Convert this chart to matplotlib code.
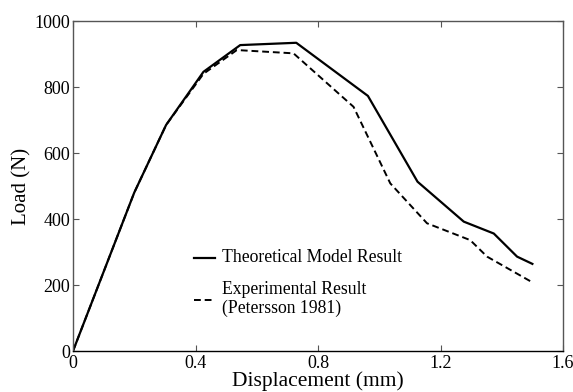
import numpy as np
import matplotlib
matplotlib.use("Agg")
import matplotlib.pyplot as plt

# load-displacement data
x_model = [0, 0.2, 0.304, 0.426, 0.546, 0.729, 0.963, 1.125, 1.276, 1.374, 1.45, 1.50]
y_model = [0, 480, 685, 846, 927, 934, 773, 513, 392, 356, 286, 264]

x_exp = [0, 0.2, 0.304, 0.426, 0.535, 0.72, 0.916, 1.036, 1.156, 1.297, 1.352, 1.50]
y_exp = [0, 480, 685, 840, 912, 902, 740, 508, 387, 336, 286, 208]

xticks = [0, 0.4, 0.8, 1.2, 1.6]
xticklabels = ["0", "0.4", "0.8", "1.2", "1.6"]
yticks = [0, 200, 400, 600, 800, 1000]

plt.rcParams['font.family'] = ['Liberation Serif', 'DejaVu Serif']

fig = plt.figure(figsize=(5.73, 3.92), dpi=100)
ax = fig.add_axes([73/573, 41/392, 490/573, 330/392])

ax.plot(x_model, y_model, color='black', lw=1.6, ls='-')
ax.plot(x_exp, y_exp, color='black', lw=1.4, ls=(0, (3.5, 2)))

ax.set_xlim(0, 1.6)
ax.set_ylim(0, 1000)
ax.set_xticks(xticks)
ax.set_xticklabels(xticklabels)
ax.set_yticks(yticks)
ax.tick_params(direction='in', top=True, right=True, labelsize=13,
               length=4, width=0.8, color='#555555')
ax.tick_params(axis='x', pad=3)
ax.tick_params(axis='y', pad=2)
for s in ax.spines.values():
    s.set_color('#555555')
    s.set_linewidth(1.0)
ax.spines['bottom'].set_color('black')

ax.set_xlabel("Displacement (mm)", fontsize=15.5, labelpad=-1)
ax.set_ylabel("Load (N)", fontsize=15, labelpad=2)

# legend drawn by hand to mimic the original layout
fs = 12.7
ax.plot([0.396, 0.465], [282, 282], color='black', lw=1.6, clip_on=False)
ax.text(0.485, 282, "Theoretical Model Result", fontsize=fs, va='center')
ax.plot([0.396, 0.465], [155, 155], color='black', lw=1.4, ls=(0, (3.5, 2)), clip_on=False)
ax.text(0.485, 185, "Experimental Result", fontsize=fs, va='center')
ax.text(0.485, 130, "(Petersson 1981)", fontsize=fs, va='center')

fig.savefig("out.png", dpi=100)
